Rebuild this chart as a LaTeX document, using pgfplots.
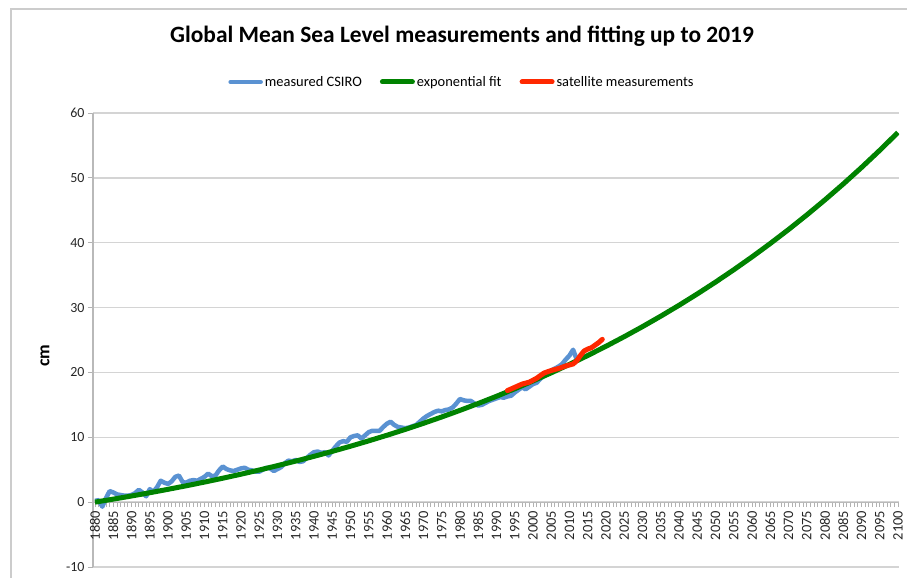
\documentclass[border=0pt]{standalone}
\usepackage{fontspec}
\setmainfont{Carlito}
\usepackage{pgfplots}
\pgfplotsset{compat=1.18}
\definecolor{csiro}{RGB}{90,146,210}
\definecolor{fitgreen}{RGB}{0,130,0}
\definecolor{satred}{RGB}{255,40,0}
\definecolor{gridgray}{RGB}{212,212,212}
\begin{document}
\begin{tikzpicture}
\begin{axis}[
  name=ax,
  scale only axis,
  width=806bp, height=454bp,
  xmin=1879.45, xmax=2100.3,
  ymin=-10, ymax=60,
  axis x line*=middle,
  axis y line*=left,
  hide obscured x ticks=false,
  hide obscured y ticks=false,
  x axis line style={-, draw=gray!55, line width=1.2bp},
  y axis line style={-, draw=gray!55, line width=1.2bp},
  xtick={1880,1885,...,2100},
  minor x tick num=4,
  ytick={-10,0,...,60},
  ymajorgrids,
  major grid style={gridgray, line width=1.5bp},
  tick style={gray!60, line width=0.8bp},
  tick align=outside,
  major tick length=5bp, minor tick length=5bp,
  /pgf/number format/assume math mode=true,
  /pgf/number format/1000 sep={},
  xticklabel style={rotate=90, anchor=east, font=\fontsize{14.5}{16}\selectfont, inner sep=3.5bp, text=black!85},
  yticklabel style={font=\fontsize{14}{16}\selectfont, text=black!85},
  title={Global Mean Sea Level measurements and fitting up to 2019},
  title style={at={(axis description cs:0.4578,1)}, anchor=center, yshift=71bp, font=\bfseries\fontsize{23.5}{27}\selectfont},
  ylabel={cm},
  ylabel style={at={(axis description cs:-0.0596,0.465)}, anchor=center, font=\bfseries\fontsize{18}{20}\selectfont},
  legend style={at={(axis description cs:0.4578,1)}, yshift=31bp, anchor=center, draw=none, fill=none,
    legend columns=3, font=\fontsize{14.5}{16}\selectfont,
    /tikz/every even column/.append style={column sep=16bp}},
  legend cell align=left,
  legend image code/.code={\draw[#1, line cap=round] (0bp,0bp) -- (30bp,0bp);},
]
\addplot[csiro, line width=4.5bp, line join=round] coordinates {
(1880,0.2) (1881,0.3) (1882,-0.7) (1883,0.6) (1884,1.7) (1885,1.5) (1886,1.2) (1887,1.1)
(1888,1.0) (1889,1.0) (1890,1.1) (1891,1.4) (1892,1.9) (1893,1.5) (1894,0.9) (1895,2.0)
(1896,1.6) (1897,2.3) (1898,3.3) (1899,3.0) (1900,2.8) (1901,3.2) (1902,3.9) (1903,4.1)
(1904,3.1) (1905,3.0) (1906,3.3) (1907,3.4) (1908,3.3) (1909,3.6) (1910,3.9) (1911,4.4)
(1912,4.0) (1913,4.1) (1914,4.9) (1915,5.5) (1916,5.1) (1917,4.9) (1918,4.8) (1919,5.0)
(1920,5.2) (1921,5.3) (1922,5.0) (1923,4.9) (1924,4.7) (1925,4.7) (1926,5.0) (1927,5.3)
(1928,5.2) (1929,4.8) (1930,5.1) (1931,5.4) (1932,6.0) (1933,6.4) (1934,6.3) (1935,6.5)
(1936,6.2) (1937,6.3) (1938,6.8) (1939,7.3) (1940,7.7) (1941,7.8) (1942,7.6) (1943,7.7)
(1944,7.2) (1945,7.9) (1946,8.6) (1947,9.2) (1948,9.4) (1949,9.3) (1950,10.0) (1951,10.2)
(1952,10.3) (1953,9.8) (1954,10.3) (1955,10.8) (1956,11.0) (1957,11.0) (1958,11.0) (1959,11.6)
(1960,12.1) (1961,12.4) (1962,11.9) (1963,11.6) (1964,11.5) (1965,11.4) (1966,11.5) (1967,11.7)
(1968,11.9) (1969,12.4) (1970,12.9) (1971,13.3) (1972,13.6) (1973,13.9) (1974,14.1) (1975,14.0)
(1976,14.2) (1977,14.3) (1978,14.6) (1979,15.2) (1980,15.9) (1981,15.7) (1982,15.6) (1983,15.6)
(1984,15.2) (1985,14.9) (1986,15.0) (1987,15.3) (1988,15.6) (1989,15.8) (1990,16.0) (1991,16.2)
(1992,16.1) (1993,16.3) (1994,16.4) (1995,16.9) (1996,17.3) (1997,17.7) (1998,17.4) (1999,17.8)
(2000,18.2) (2001,18.4) (2002,19.0) (2003,19.5) (2004,19.9) (2005,20.3) (2006,20.6) (2007,20.9)
(2008,21.3) (2009,22.0) (2010,22.6) (2011,23.5) (2012,22.0)
};
\addlegendentry{measured CSIRO}
\addplot[fitgreen, line width=5bp, line join=round] coordinates {
(1880,0.000) (1885,0.464) (1890,0.947) (1895,1.450) (1900,1.976) (1905,2.523) (1910,3.093)
(1915,3.688) (1920,4.308) (1925,4.954) (1930,5.628) (1935,6.330) (1940,7.062) (1945,7.825)
(1950,8.620) (1955,9.449) (1960,10.313) (1965,11.214) (1970,12.153) (1975,13.131) (1980,14.149)
(1985,15.211) (1990,16.319) (1995,17.474) (2000,18.680) (2005,19.935) (2010,21.244) (2015,22.607)
(2020,24.029) (2025,25.511) (2030,27.056) (2035,28.666) (2040,30.344) (2045,32.094) (2050,33.918)
(2055,35.819) (2060,37.800) (2065,39.866) (2070,42.019) (2075,44.264) (2080,46.604) (2085,49.042)
(2090,51.584) (2095,54.234) (2100,56.996)
};
\addlegendentry{exponential fit}
\addplot[satred, line width=5bp, line join=round, line cap=round] coordinates {
(1993,17.2) (1995,17.7) (1997,18.2) (1999,18.5) (2001,19.1) (2003,19.9) (2005,20.3)
(2007,20.6) (2009,21.0) (2011,21.3) (2012,21.8) (2013,22.6) (2014,23.3) (2015,23.6)
(2016,23.8) (2017,24.2) (2018,24.6) (2019,25.1)
};
\addlegendentry{satellite measurements}
\end{axis}
\pgfresetboundingbox
\path[use as bounding box] ([shift={(-93bp,-11bp)}]ax.south west) rectangle ([shift={(8bp,113bp)}]ax.north east);
\draw[gray!40, line width=1.5bp] ([shift={(-82bp,-11bp)}]ax.south west) |- ([shift={(8bp,104bp)}]ax.north east);
\end{tikzpicture}
\end{document}
